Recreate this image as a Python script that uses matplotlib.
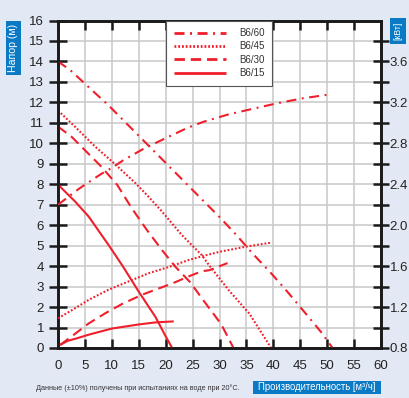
import matplotlib
matplotlib.use("Agg")
import matplotlib.pyplot as plt
from matplotlib.patches import Rectangle
from matplotlib.ticker import FixedLocator

FAM = ['Liberation Sans', 'DejaVu Sans']
plt.rcParams['font.family'] = FAM
plt.rcParams['lines.scale_dashes'] = False

# ---------------- data ----------------
labels = ['B6/60', 'B6/45', 'B6/30', 'B6/15']

# Head curves  (flow m3/h, head m)
q60 = [0, 2.3, 6, 9.4, 12.8, 16.2, 19.6, 23, 26.2, 30, 33.1, 36.2, 39.6, 42.7, 45.8, 48.9, 51]
h60 = [14.0, 13.57, 12.67, 11.85, 10.95, 10.05, 9.15, 8.25, 7.4, 6.4, 5.53, 4.6, 3.65, 2.72, 1.75, 0.77, 0.0]

q45 = [0, 3.2, 6.9, 10.6, 14.4, 16.5, 19.3, 23, 26.7, 28.1, 31.8, 35.6, 39.6]
h45 = [11.6, 10.8, 9.84, 8.98, 8.05, 7.48, 6.67, 5.52, 4.54, 4.03, 2.8, 1.66, 0.0]

q30 = [0, 2.6, 5.7, 7.9, 11, 13.7, 16.5, 19.3, 21.8, 24.6, 26.8, 30.3, 32.6]
h30 = [10.82, 10.3, 9.48, 8.9, 7.97, 6.83, 5.77, 4.79, 3.97, 3.2, 2.4, 1.17, 0.0]

q15 = [0, 0.7, 3.2, 5.7, 9.4, 11.9, 15, 18.1, 19.9, 21.2]
h15 = [8.0, 7.8, 7.15, 6.42, 5.03, 4.05, 2.75, 1.52, 0.62, 0.0]

# Power curves  (flow m3/h, power kW)
pq60 = [0, 2, 4, 6, 8, 10, 12, 14, 16, 18, 20, 24, 27, 31.5, 36.4, 40.6, 45.5, 50.8]
p60 = [2.20, 2.28, 2.36, 2.43, 2.50, 2.56, 2.63, 2.69, 2.75, 2.80, 2.85, 2.95, 3.01, 3.08, 3.14, 3.19, 3.24, 3.28]

pq45 = [0, 2.6, 5.7, 9.4, 13.1, 16.8, 20.5, 24.3, 27, 30, 34.9, 39.6]
p45 = [1.09, 1.17, 1.27, 1.37, 1.45, 1.53, 1.59, 1.66, 1.70, 1.74, 1.79, 1.83]

pq30 = [0.4, 3.2, 5.7, 8.8, 11.9, 15.6, 18.1, 21.2, 24.3, 26.7, 28.1, 31.5]
p30 = [0.83, 0.94, 1.04, 1.14, 1.23, 1.32, 1.37, 1.43, 1.50, 1.55, 1.56, 1.63]

pq15 = [0.4, 1.8, 3.2, 5.7, 10, 15, 18.1, 21.5]
p15 = [0.83, 0.87, 0.89, 0.93, 0.99, 1.03, 1.05, 1.06]

x_ticks = list(range(0, 61, 5))
h_ticks = list(range(0, 17))
kw_major = [0.8, 1.2, 1.6, 2.0, 2.4, 2.8, 3.2, 3.6]
kw_minor = [1.0, 1.4, 1.8, 2.2, 2.6, 3.0, 3.4, 3.8]
kw_labels = ['0.8', '1.2', '1.6', '2.0', '2.4', '2.8', '3.2', '3.6']

note = 'Данные (±10%) получены при испытаниях на воде при 20°С.'
xlabel = 'Производительность [м³/ч]'
ylabel = 'Напор (м)'
y2label = '[кВт]'

# ---------------- style ----------------
BG = '#e3e9f4'
RED = '#ef1f2b'
BLUE = '#0b7ac4'
GRID = '#c8c8c8'
LW = 1.5
styles = {
    'B6/60': (0, (7.2, 4.0, 1.4, 4.0)),
    'B6/45': (0, (1.3, 1.4)),
    'B6/30': (0, (7.5, 4.2)),
    'B6/15': '-',
}

W, H = 409, 398
fig = plt.figure(figsize=(W / 100, H / 100), dpi=100, facecolor=BG)
x0, x1, y0, y1 = 58, 381, 348, 20.5
ax = fig.add_axes([x0 / W, 1 - y0 / H, (x1 - x0) / W, (y0 - y1) / H])
ax.set_facecolor('white')
ax2 = ax.twinx()

ax.set_xlim(0, 60)
ax.set_ylim(0, 16)
ax2.set_ylim(0.8, 4.0)

ax.set_xticks(x_ticks)
ax.set_yticks(h_ticks)
ax.grid(True, color=GRID, lw=1.1, zorder=0)
ax.set_axisbelow(True)

for a in (ax, ax2):
    for s in a.spines.values():
        s.set_linewidth(1.9)
        s.set_color('#1a1a1a')

ax.tick_params(axis='x', which='both', direction='in', length=6.8, width=1.8,
               color='#1a1a1a', top=True, bottom=True, labelsize=9.5, pad=8.5)
ax.tick_params(axis='y', which='both', direction='inout', length=13.5, width=1.8,
               color='#1a1a1a', left=True, right=False, labelsize=9.5, pad=3.2)

ax2.yaxis.set_major_locator(FixedLocator(kw_major))
ax2.yaxis.set_minor_locator(FixedLocator(kw_minor))
ax2.set_yticklabels(kw_labels)
ax2.tick_params(axis='y', which='both', direction='inout', length=11, width=1.8,
                color='#1a1a1a', labelsize=9.5, pad=0.8)

for lab in ax.get_xticklabels() + ax.get_yticklabels() + ax2.get_yticklabels():
    lab.set_color('#222222')

heads = [(q60, h60), (q45, h45), (q30, h30), (q15, h15)]
powers = [(pq60, p60), (pq45, p45), (pq30, p30), (pq15, p15)]
handles = []
for lab, (q, h), (pq, p) in zip(labels, heads, powers):
    ln, = ax.plot(q, h, color=RED, lw=LW, linestyle=styles[lab], label=lab,
                  zorder=3, solid_capstyle='butt', dash_capstyle='butt')
    ax2.plot(pq, p, color=RED, lw=LW, linestyle=styles[lab], zorder=3,
             solid_capstyle='butt', dash_capstyle='butt')
    handles.append(ln)

leg = ax2.legend(handles=handles, labels=labels, loc='upper left',
                 bbox_to_anchor=((166 - x0) / (x1 - x0), 1.0), borderaxespad=0,
                 fontsize=7, handlelength=5.4, handletextpad=1.3,
                 labelspacing=0.33, borderpad=0.8, frameon=True, fancybox=False,
                 edgecolor='#555555', facecolor='white', framealpha=1)
leg.get_frame().set_linewidth(0.8)
for t in leg.get_texts():
    t.set_color('#333333')
for lh in leg.get_lines():
    lh.set_linewidth(2.0)

# label boxes
def box(xa, ya, xb, yb, text, rot, fs):
    fig.patches.append(Rectangle((xa / W, 1 - yb / H), (xb - xa) / W, (yb - ya) / H,
                                 transform=fig.transFigure, facecolor=BLUE,
                                 edgecolor='none', zorder=1))
    fig.text((xa + xb) / 2 / W, 1 - (ya + yb) / 2 / H, text, rotation=rot,
             ha='center', va='center', color='white', fontsize=fs, zorder=2)

box(6, 21, 21, 75, ylabel, 90, 7.6)
box(390, 18, 406, 44, y2label, 90, 6.2)
box(253, 381, 381, 394, xlabel, 0, 6.9)

fig.text(36 / W, 1 - 388 / H, note, ha='left', va='center', fontsize=5.2,
         color='#333333')

fig.savefig('out.png', dpi=100, facecolor=BG)
